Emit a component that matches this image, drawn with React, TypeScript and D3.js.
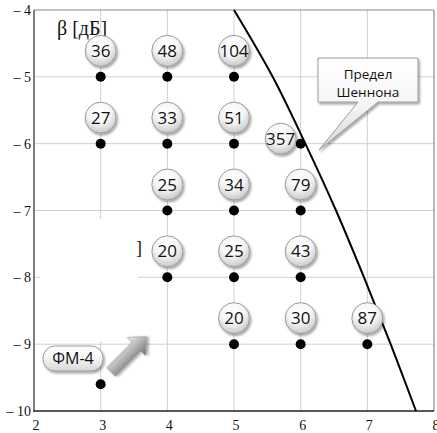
import React from 'react';
import * as d3 from 'd3';

const xTicks = [2, 3, 4, 5, 6, 7, 8];
const yTicks = [-4, -5, -6, -7, -8, -9, -10];

// points of the grid (bits/symbol vs beta), with labels above them
const pointX = [3, 4, 5, 3, 4, 5, 6, 4, 5, 6, 4, 5, 6, 5, 6, 7];
const pointY = [-5, -5, -5, -6, -6, -6, -6, -7, -7, -7, -8, -8, -8, -9, -9, -9];
const pointLabels = ['36', '48', '104', '27', '33', '51', '357', '25', '34', '79', '20', '25', '43', '20', '30', '87'];

// ФМ-4 point
const fmX = 3;
const fmY = -9.6;

// Shannon limit curve
const shannonX = [5.0, 5.58, 6.07, 6.53, 6.95, 7.35, 7.73];
const shannonY = [-4, -5, -6, -7, -8, -9, -10];

const W = 437;
const H = 433;

const App = () => {
  const x = d3.scaleLinear().domain([2, 8]).range([34, 434]);
  const y = d3.scaleLinear().domain([-10, -4]).range([411, 10]);

  const line = d3
    .line<number>()
    .x((d) => x(shannonX[d]))
    .y((d) => y(shannonY[d]))
    .curve(d3.curveCatmullRom);
  const curvePath = line(shannonX.map((_, i) => i)) || '';

  const serif = '"Liberation Serif", "DejaVu Serif", serif';
  const sans = '"Open Sans", "Noto Sans", sans-serif';

  // label that would sit on the curve is moved to the left
  const nudge: Record<string, [number, number]> = { '357': [-20, 21] };

  return (
    <div style={{ position: 'absolute', left: 0, top: 0 }}>
      <svg width={W} height={H} style={{ display: 'block', background: '#fff' }}>
        <defs>
          <radialGradient id="ball" cx="45%" cy="30%" r="75%">
            <stop offset="0%" stopColor="#ffffff" />
            <stop offset="50%" stopColor="#f5f5f5" />
            <stop offset="100%" stopColor="#c2c2c2" />
          </radialGradient>
          <linearGradient id="box" x1="0" y1="0" x2="0" y2="1">
            <stop offset="0%" stopColor="#ffffff" />
            <stop offset="50%" stopColor="#f6f6f6" />
            <stop offset="100%" stopColor="#d6d6d6" />
          </linearGradient>
          <linearGradient id="arrow" x1="0" y1="0" x2="0" y2="1">
            <stop offset="0%" stopColor="#f2f2f2" />
            <stop offset="100%" stopColor="#6e6e6e" />
          </linearGradient>
          <filter id="shadow" x="-30%" y="-30%" width="170%" height="170%">
            <feDropShadow dx="1.5" dy="2" stdDeviation="1.2" floodColor="#000" floodOpacity="0.35" />
          </filter>
        </defs>

        {/* grid */}
        <g stroke="#d0d0d0" strokeWidth={1}>
          {xTicks.slice(1, -1).map((t) => (
            <line key={'gx' + t} x1={x(t)} x2={x(t)} y1={y(-4)} y2={y(-10)} />
          ))}
          {yTicks.slice(1, -1).map((t) => (
            <line key={'gy' + t} x1={x(2)} x2={x(8)} y1={y(t)} y2={y(t)} />
          ))}
        </g>
        {/* blank area left over from a removed text box */}
        <rect x={40} y={219} width={98} height={122} fill="#fff" />

        {/* frame */}
        <line x1={x(2)} x2={x(8)} y1={y(-4)} y2={y(-4)} stroke="#8a8a8a" strokeWidth={1.2} />
        <line x1={x(8)} x2={x(8)} y1={y(-4)} y2={y(-10)} stroke="#8a8a8a" strokeWidth={1.2} />
        <line x1={x(2)} x2={x(2)} y1={y(-4)} y2={y(-10)} stroke="#555" strokeWidth={1.5} />
        <line x1={x(2) - 1} x2={x(8)} y1={y(-10)} y2={y(-10)} stroke="#222" strokeWidth={1.6} />

        {/* tick labels */}
        <g fontFamily={serif} fontSize={14} fill="#111">
          {yTicks.map((t) => (
            <text key={'ty' + t} x={31} y={y(t) + 5} textAnchor="end">
              {'\u2013 ' + Math.abs(t)}
            </text>
          ))}
          {xTicks.map((t) => (
            <text key={'tx' + t} x={x(t) + 2} y={430} textAnchor="middle">
              {t}
            </text>
          ))}
        </g>

        <text x={57} y={35} fontFamily={serif} fontSize={20} fill="#111">
          β [дБ]
        </text>
        <text x={136} y={254} fontFamily={serif} fontSize={18} fill="#111">
          ]
        </text>

        {/* Shannon limit */}
        <path d={curvePath} fill="none" stroke="#000" strokeWidth={2} />

        {/* dots */}
        {pointX.map((px, i) => (
          <circle key={'d' + i} cx={x(px)} cy={y(pointY[i])} r={5} fill="#000" />
        ))}
        <circle cx={x(fmX)} cy={y(fmY)} r={5} fill="#000" />

        {/* labels in balls */}
        {pointX.map((px, i) => {
          const lab = pointLabels[i];
          const [dx, dy] = nudge[lab] || [0, 0];
          const cx = x(px) + dx;
          const cy = y(pointY[i]) - 26 + dy;
          return (
            <g key={'b' + i}>
              <circle cx={cx} cy={cy} r={15.5} fill="url(#ball)" stroke="#9a9a9a" strokeWidth={1} filter="url(#shadow)" />
              <text x={cx} y={cy + 6} textAnchor="middle" fontFamily={sans} fontSize={17} fill="#111">
                {lab}
              </text>
            </g>
          );
        })}

        {/* callout */}
        <path
          d="M318,58 H418 V102 H378 L319,150 L358,102 H318 Z"
          fill="url(#box)"
          stroke="#9a9a9a"
          strokeWidth={1}
          filter="url(#shadow)"
        />
        <text x={368} y={79} textAnchor="middle" fontFamily={sans} fontSize={13.5} fill="#111">
          Предел
        </text>
        <text x={368} y={97} textAnchor="middle" fontFamily={sans} fontSize={13.5} fill="#111">
          Шеннона
        </text>

        {/* ФМ-4 label */}
        <rect x={43} y={346} width={60} height={25} rx={12} fill="url(#box)" stroke="#9a9a9a" strokeWidth={1} filter="url(#shadow)" />
        <text x={73} y={364} textAnchor="middle" fontFamily={sans} fontSize={16} fill="#111">
          ФМ-4
        </text>

        {/* arrow */}
        <g transform="translate(111,372) rotate(-45)">
          <path d="M0,-6 H36 V-13 L50,0 L36,13 V6 H0 Z" fill="url(#arrow)" stroke="#8a8a8a" strokeWidth={0.6} filter="url(#shadow)" />
        </g>
      </svg>
    </div>
  );
};

export default App;
